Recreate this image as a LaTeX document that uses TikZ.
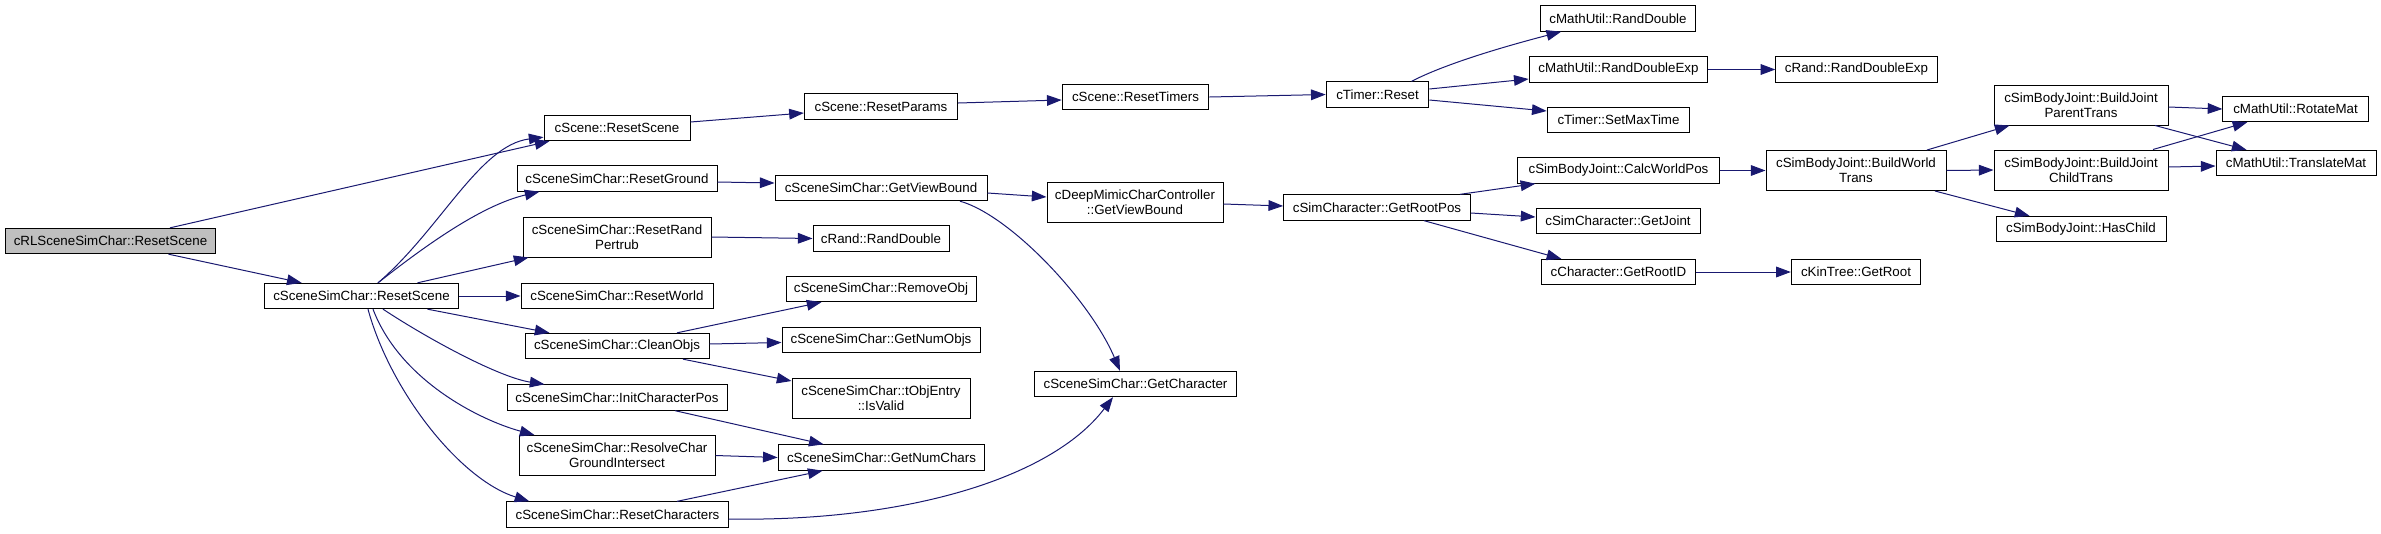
\documentclass[tikz,border=0pt]{standalone}
\usepackage{fontspec}
\setmainfont{Liberation Sans}
\usetikzlibrary{arrows.meta,calc}
\definecolor{midnight}{HTML}{191970}
\definecolor{rootgray}{HTML}{BFBFBF}
\begin{document}
\begin{tikzpicture}[x=0.75pt,y=-0.75pt,
    fn/.style={draw=black,line width=0.75pt,minimum height=19pt,inner sep=0pt,
      align=center,font=\fontsize{10}{11}\selectfont},
    twoline/.style={fn,minimum height=30pt},
    call/.style={draw=midnight,line width=0.75pt,-{Triangle[length=11pt,width=8pt]}}]
    \useasboundingbox (0,0) rectangle (2381,533);

    % 起点与第一层
    \node[fn,fill=rootgray,minimum width=158pt] (rlreset) at (110.5,241) {cRLSceneSimChar::ResetScene};
    \node[fn,minimum width=146pt] (ssreset) at (361.5,296) {cSceneSimChar::ResetScene};

    % 第二列
    \node[fn,minimum width=109.5pt] (scenereset) at (617,128) {cScene::ResetScene};
    \node[fn,minimum width=150pt] (ground) at (617,178.5) {cSceneSimChar::ResetGround};
    \node[twoline,minimum width=141pt] (randpert) at (617,237) {cSceneSimChar::ResetRand\\Pertrub};
    \node[fn,minimum width=144pt] (world) at (617,296) {cSceneSimChar::ResetWorld};
    \node[fn,minimum width=138pt] (cleanobjs) at (617,346) {cSceneSimChar::CleanObjs};
    \node[fn,minimum width=165pt] (initpos) at (617,397.5) {cSceneSimChar::InitCharacterPos};
    \node[twoline,minimum width=147pt] (resolve) at (617,455.5) {cSceneSimChar::ResolveChar\\GroundIntersect};
    \node[fn,minimum width=166pt] (resetchars) at (617.5,514.5) {cSceneSimChar::ResetCharacters};

    % 第三列
    \node[fn,minimum width=115pt] (resetparams) at (881,106.5) {cScene::ResetParams};
    \node[fn,minimum width=159pt] (viewbound) at (881,188) {cSceneSimChar::GetViewBound};
    \node[fn,minimum width=102pt] (rranddouble) at (881,238.5) {cRand::RandDouble};
    \node[fn,minimum width=142.5pt] (removeobj) at (881,289) {cSceneSimChar::RemoveObj};
    \node[fn,minimum width=148.5pt] (numobjs) at (881,340) {cSceneSimChar::GetNumObjs};
    \node[twoline,minimum width=133.5pt] (isvalid) at (881,398.5) {cSceneSimChar::tObjEntry\\::IsValid};
    \node[fn,minimum width=155pt] (numchars) at (881.5,457.5) {cSceneSimChar::GetNumChars};

    % 第四列
    \node[fn,minimum width=110pt] (resettimers) at (1135.5,97) {cScene::ResetTimers};
    \node[twoline,minimum width=132pt] (dmviewbound) at (1135,202) {cDeepMimicCharController\\::GetViewBound};
    \node[fn,minimum width=151pt] (getchar) at (1135.5,384) {cSceneSimChar::GetCharacter};

    % 第五列
    \node[fn,minimum width=77pt] (timerreset) at (1377.5,94.5) {cTimer::Reset};
    \node[fn,minimum width=140pt] (rootpos) at (1377,207.5) {cSimCharacter::GetRootPos};

    % 第六列
    \node[fn,minimum width=116pt] (mrand) at (1618,18.5) {cMathUtil::RandDouble};
    \node[fn,minimum width=134pt] (mrandexp) at (1618.5,69.5) {cMathUtil::RandDoubleExp};
    \node[fn,minimum width=107pt] (setmax) at (1618.5,120) {cTimer::SetMaxTime};
    \node[fn,minimum width=151pt] (calcworld) at (1618.5,170.5) {cSimBodyJoint::CalcWorldPos};
    \node[fn,minimum width=123pt] (getjoint) at (1618,221) {cSimCharacter::GetJoint};
    \node[fn,minimum width=115pt] (rootid) at (1618.5,272) {cCharacter::GetRootID};

    % 第七列
    \node[fn,minimum width=121pt] (rrandexp) at (1856.5,69.5) {cRand::RandDoubleExp};
    \node[twoline,minimum width=135pt] (buildworld) at (1856,170.5) {cSimBodyJoint::BuildWorld\\Trans};
    \node[fn,minimum width=97pt] (getroot) at (1856,272) {cKinTree::GetRoot};

    % 最右两列
    \node[twoline,minimum width=130.5pt] (parenttrans) at (2081,105) {cSimBodyJoint::BuildJoint\\ParentTrans};
    \node[twoline,minimum width=130.5pt] (childtrans) at (2081,170) {cSimBodyJoint::BuildJoint\\ChildTrans};
    \node[fn,minimum width=127.5pt] (haschild) at (2081,229) {cSimBodyJoint::HasChild};
    \node[fn,minimum width=109pt] (rotmat) at (2295.5,109) {cMathUtil::RotateMat};
    \node[fn,minimum width=120pt] (transmat) at (2296,163) {cMathUtil::TranslateMat};

    % 调用关系
    \draw[call] ($(rlreset.north)+(59.5,0)$) -- ($(scenereset.south west)+(6,0)$);
    \draw[call] ($(rlreset.south)+(58,0)$) -- ($(ssreset.north west)+(38,0)$);
    \draw[call] ($(ssreset.north)+(16.5,0)$) .. controls +(62,-53) and +(-64,8) .. ($(scenereset.south west)+(0,-4)$);
    \draw[call] ($(ssreset.north)+(16.5,0)$) .. controls +(42,-33) and +(-60,14) .. ($(ground.south west)+(23,0)$);
    \draw[call] ($(ssreset.north)+(56,0)$) -- ($(randpert.south west)+(6,0)$);
    \draw[call] (ssreset.east) -- (world.west);
    \draw[call] ($(ssreset.south)+(66,0)$) -- ($(cleanobjs.north west)+(25,0)$);
    \draw[call] ($(ssreset.south)+(21.5,0)$) .. controls +(47,31) and +(-45,-7) .. ($(initpos.north west)+(38,0)$);
    \draw[call] ($(ssreset.south)+(11.5,0)$) .. controls +(27,71) and +(-55,-15) .. ($(resolve.north west)+(16,0)$);
    \draw[call] ($(ssreset.south)+(6.5,0)$) .. controls +(22,81) and +(-70,-22) .. ($(resetchars.north west)+(23,0)$);

    \draw[call] ($(scenereset.east)+(0,-6)$) -- ($(resetparams.west)+(0,6.5)$);
    \draw[call] ($(resetparams.east)+(0,-3.5)$) -- ($(resettimers.west)+(0,3)$);
    \draw[call] (resettimers.east) -- (timerreset.west);
    \draw[call] ($(timerreset.north)+(34,0)$) .. controls +(38.5,-20) and +(-42,11) .. ($(mrand.south west)+(21,0)$);
    \draw[call] ($(timerreset.east)+(0,-5.5)$) -- ($(mrandexp.west)+(0,9.5)$);
    \draw[call] ($(timerreset.east)+(0,5.5)$) -- ($(setmax.west)+(0,-9)$);
    \draw[call] (mrandexp.east) -- (rrandexp.west);

    \draw[call] ($(ground.east)+(0,3.5)$) -- ($(viewbound.west)+(0,-5)$);
    \draw[call] ($(viewbound.east)+(0,5)$) -- ($(dmviewbound.west)+(0,-5)$);
    \draw[call] ($(viewbound.south)+(79,0)$) .. controls +(50,14) and +(-30,-71) .. ($(getchar.north)+(-15.5,0)$);
    \draw[call] ($(dmviewbound.east)+(0,2)$) -- ($(rootpos.west)+(0,-1.5)$);
    \draw[call] ($(rootpos.north)+(83,0)$) -- ($(calcworld.south west)+(18,0)$);
    \draw[call] ($(rootpos.east)+(0,5.5)$) -- ($(getjoint.west)+(0,-4)$);
    \draw[call] ($(rootpos.south)+(47,0)$) -- ($(rootid.north west)+(20,0)$);
    \draw[call] (rootid.east) -- (getroot.west);
    \draw[call] (calcworld.east) -- (buildworld.west);

    \draw[call] ($(buildworld.north)+(71,0)$) -- ($(parenttrans.south west)+(16,0)$);
    \draw[call] (buildworld.east) -- (childtrans.west);
    \draw[call] ($(buildworld.south)+(79,0)$) -- ($(haschild.north west)+(34,0)$);
    \draw[call] ($(parenttrans.east)+(0,2)$) -- (rotmat.west);
    \draw[call] ($(parenttrans.south)+(74,0)$) -- ($(transmat.north west)+(31,0)$);
    \draw[call] ($(childtrans.north)+(72,0)$) -- ($(rotmat.south west)+(25,0)$);
    \draw[call] ($(childtrans.east)+(0,-3)$) -- ($(transmat.west)+(0,3)$);

    \draw[call] (randpert.east) -- (rranddouble.west);
    \draw[call] ($(cleanobjs.north)+(60,0)$) -- ($(removeobj.south west)+(36,0)$);
    \draw[call] ($(cleanobjs.east)+(0,-2)$) -- ($(numobjs.west)+(0,2.5)$);
    \draw[call] ($(cleanobjs.south)+(66,0)$) -- ($(isvalid.north west)+(0,3)$);
    \draw[call] ($(initpos.south)+(58,0)$) -- ($(numchars.north west)+(46,0)$);
    \draw[call] (resolve.east) -- (numchars.west);
    \draw[call] ($(resetchars.north)+(59.5,0)$) -- ($(numchars.south west)+(45,0)$);
    \draw[call] ($(resetchars.east)+(0,4.5)$) .. controls +(172,3) and +(-63,83) .. ($(getchar.south)+(-22.5,0)$);
\end{tikzpicture}
\end{document}
